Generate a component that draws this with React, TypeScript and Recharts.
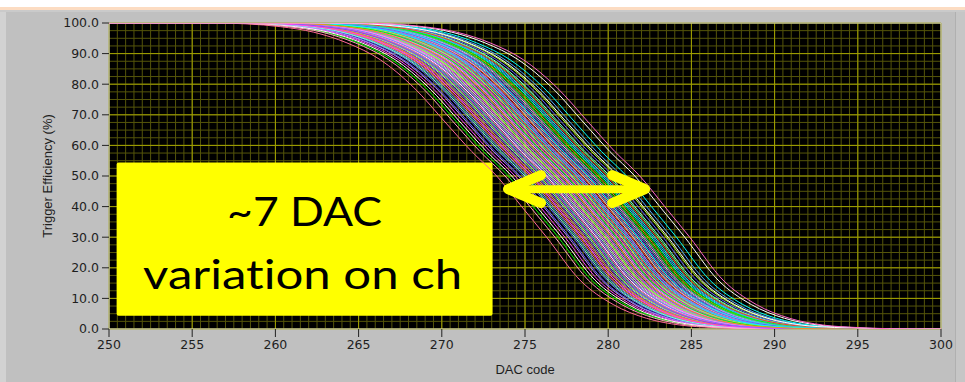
import {
  LineChart,
  Line,
  XAxis,
  YAxis,
  CartesianGrid,
  ReferenceArea,
  ReferenceLine,
} from "recharts";

const DAC_TICKS = [250, 255, 260, 265, 270, 275, 280, 285, 290, 295, 300];
const EFF_TICKS = [0, 10, 20, 30, 40, 50, 60, 70, 80, 90, 100];
const DAC_DOMAIN = [250, 300];
const EFF_DOMAIN = [0, 100];

// measured S-curve shape: DAC offset from the 50% point -> efficiency (%)
const PROFILE_OFFSET = [-17, -15, -13, -11, -9, -7, -5, -3, -1.5, 0, 1.5, 3, 5, 7, 9, 11, 13, 15, 17];
const PROFILE_EFF = [100, 99.7, 98.8, 97, 93.5, 88, 79, 67, 58, 50, 40, 30, 16, 8, 3.5, 1.3, 0.5, 0.1, 0];

// 50% threshold of every channel (DAC code)
const THRESHOLDS = [
  274.0, 276.8, 278.2, 275.6, 277.9, 279.4, 276.1, 277.3, 278.8, 275.2,
  276.5, 280.1, 277.6, 274.7, 278.5, 276.9, 279.0, 275.9, 277.1, 278.0,
  276.3, 279.8, 275.4, 277.7, 278.6, 273.3, 276.7, 277.4, 279.2, 275.8,
  278.3, 276.2, 280.5, 277.0, 275.1, 278.9, 276.6, 277.8, 274.4, 279.6,
  276.0, 278.1, 277.2, 275.5, 280.8, 276.4, 278.4, 277.5, 279.1, 274.9,
  276.8, 278.7, 277.9, 275.7, 279.3, 276.3, 277.0, 281.1, 278.2, 275.3,
  276.9, 277.6, 279.7, 274.6, 278.0, 276.5, 277.3, 280.3, 275.9, 278.5,
  276.1, 277.7, 279.5, 274.2, 276.7, 278.8, 277.1, 275.6, 280.0, 276.2,
  278.3, 277.4, 279.9, 275.0, 276.6, 278.6, 277.8, 273.8, 279.2, 276.0,
  277.5, 280.6, 275.4, 278.1, 276.4, 277.2,
];

const CHANNEL_COLORS = [
  "#00ff00", "#ffffff", "#ff40ff", "#00ffff", "#8c6cff", "#ff8c1a",
  "#66ff66", "#ff6699", "#4da6ff", "#c080ff", "#ff3030", "#80ffe0",
  "#ff99ff", "#6060ff", "#b0ff30", "#ffa0c0", "#40c0c0", "#9933ff",
];

// two channels sitting well above the rest
const OUTLIER_THRESHOLDS = [281.6, 281.9];
const OUTLIER_COLORS = ["#ffffff", "#ff66cc"];

// minor grid: 0.5 DAC and 2.5 % steps
const MINOR_X: number[] = [];
for (let v = 250; v <= 300; v += 0.5) MINOR_X.push(v);
const MINOR_Y: number[] = [];
for (let v = 0; v <= 100; v += 2.5) MINOR_Y.push(v);

function curve(t: number) {
  return [
    { x: 250, y: 100 },
    ...PROFILE_OFFSET.map((o, k) => ({ x: t + o, y: PROFILE_EFF[k] })),
    { x: 300, y: 0 },
  ];
}

const channels = [
  ...THRESHOLDS.map((t, i) => ({ t, color: CHANNEL_COLORS[i % CHANNEL_COLORS.length] })),
  ...OUTLIER_THRESHOLDS.map((t, i) => ({ t, color: OUTLIER_COLORS[i] })),
].map((c, i) => ({ ...c, key: `ch${i}`, points: curve(c.t) }));

// grid positions over the plot area (the default generator thins dense ticks)
const gridX = (values: number[]) => (p: any) => {
  const o = p.offset;
  return values.map((v) => o.left + ((v - DAC_DOMAIN[0]) / (DAC_DOMAIN[1] - DAC_DOMAIN[0])) * o.width);
};
const gridY = (values: number[]) => (p: any) => {
  const o = p.offset;
  return values.map((v) => o.top + (1 - (v - EFF_DOMAIN[0]) / (EFF_DOMAIN[1] - EFF_DOMAIN[0])) * o.height);
};

const tickStyle = { fontFamily: "DejaVu Sans", fontSize: 12.5, fill: "#1e1e1e" };
const noteFont = { fontVariantLigatures: "none" as const };

function NoteBox(p: any) {
  const { x, y, width, height } = p;
  const cx = x + width / 2;
  return (
    <g>
      <rect x={x} y={y} width={width} height={height} rx={2} fill="#ffff00" />
      <text
        x={cx}
        y={y + 63}
        textAnchor="middle"
        fontFamily="Lato"
        fontSize={41}
        fill="#000"
        style={noteFont}
        textLength={155}
        lengthAdjust="spacingAndGlyphs"
      >
        ~7 DAC
      </text>
      <text
        x={cx - 2}
        y={y + 126}
        textAnchor="middle"
        fontFamily="Lato"
        fontSize={41}
        fill="#000"
        style={noteFont}
        textLength={319}
        lengthAdjust="spacingAndGlyphs"
      >
        variation on ch
      </text>
    </g>
  );
}

function DoubleArrow(p: any) {
  const { x1, y1, x2 } = p;
  const y = y1;
  const l = Math.min(x1, x2);
  const r = Math.max(x1, x2);
  const head = (tip: number, dir: number) => (
    <path
      d={`M ${tip + dir * 36} ${y - 14} L ${tip + dir * 3} ${y} L ${tip + dir * 36} ${y + 14}`}
      strokeWidth={10}
      strokeLinecap="round"
      strokeLinejoin="round"
    />
  );
  return (
    <g stroke="#ffff00" fill="none">
      <line x1={l + 2} y1={y} x2={r - 2} y2={y} strokeWidth={8} />
      <polygon points={`${l},${y} ${l + 10},${y - 4.5} ${l + 10},${y + 4.5}`} fill="#ffff00" stroke="none" />
      <polygon points={`${r},${y} ${r - 10},${y - 4.5} ${r - 10},${y + 4.5}`} fill="#ffff00" stroke="none" />
      {head(l, 1)}
      {head(r, -1)}
    </g>
  );
}

function YTitle(p: any) {
  const vb = p.viewBox;
  const cx = vb.x + 47;
  const cy = vb.y + vb.height / 2;
  return (
    <text
      x={cx}
      y={cy}
      transform={`rotate(-90 ${cx} ${cy})`}
      textAnchor="middle"
      dominantBaseline="central"
      fontFamily="Liberation Sans"
      fontSize={13}
      fill="#1e1e1e"
    >
      Trigger Efficiency (%)
    </text>
  );
}

export default function App() {
  return (
    <div style={{ position: "relative", width: 965, height: 382, background: "#c0c0c0", overflow: "hidden" }}>
      <style>{"body{margin:0}"}</style>
      <div style={{ position: "absolute", left: 0, top: 0, width: 965, height: 7, background: "#ffffff" }} />
      <div style={{ position: "absolute", left: 0, top: 7, width: 965, height: 3, background: "#fcdcc2" }} />
      <div style={{ position: "absolute", left: 0, top: 10, width: 965, height: 2, background: "#cacaca" }} />
      <div style={{ position: "absolute", left: 0, top: 12, width: 6, height: 370, background: "#d2d2d2" }} />
      <div style={{ position: "absolute", left: 955, top: 12, width: 10, height: 370, background: "#c6c6c6", borderLeft: "1px solid #b0b0b0" }} />
      <div style={{ position: "absolute", left: 0, top: 0 }}>
        <LineChart width={965} height={382} margin={{ top: 23, right: 24, left: 0, bottom: 0 }}>
          <CartesianGrid
            stroke="#55550a"
            strokeWidth={1}
            fill="#000000"
            fillOpacity={1}
            verticalCoordinatesGenerator={gridX(MINOR_X)}
            horizontalCoordinatesGenerator={gridY(MINOR_Y)}
          />
          <CartesianGrid
            stroke="#a3a300"
            strokeWidth={1}
            verticalCoordinatesGenerator={gridX(DAC_TICKS)}
            horizontalCoordinatesGenerator={gridY(EFF_TICKS)}
          />
          <XAxis
            type="number"
            dataKey="x"
            domain={DAC_DOMAIN}
            ticks={DAC_TICKS}
            allowDataOverflow
            axisLine={false}
            tickSize={8}
            tickMargin={3}
            tickLine={{ stroke: "#222" }}
            tick={tickStyle}
            height={53}
            label={{
              value: "DAC code",
              position: "insideBottom",
              offset: 8,
              style: { fontFamily: "Liberation Sans", fontSize: 13, fill: "#1e1e1e" },
            }}
          />
          <YAxis
            type="number"
            dataKey="y"
            domain={EFF_DOMAIN}
            ticks={EFF_TICKS}
            allowDataOverflow
            axisLine={false}
            tickSize={7}
            tickMargin={3}
            tickLine={{ stroke: "#222" }}
            tick={tickStyle}
            tickFormatter={(v: number) => v.toFixed(1)}
            width={109}
            label={<YTitle />}
          />
          {channels.map((c) => (
            <Line
              key={c.key}
              data={c.points}
              dataKey="y"
              type="monotone"
              stroke={c.color}
              strokeWidth={1}
              dot={false}
              activeDot={false}
              isAnimationActive={false}
            />
          ))}
          <ReferenceArea
            x1={250}
            x2={300}
            y1={0}
            y2={100}
            fill="none"
            stroke="#d6d6d6"
            strokeWidth={1}
          />
          <ReferenceArea x1={250.46} x2={273.05} y1={4.3} y2={54.4} shape={<NoteBox />} />
          <ReferenceLine
            segment={[
              { x: 273.8, y: 45.7 },
              { x: 282.4, y: 45.7 },
            ]}
            shape={<DoubleArrow />}
          />
        </LineChart>
      </div>
    </div>
  );
}
